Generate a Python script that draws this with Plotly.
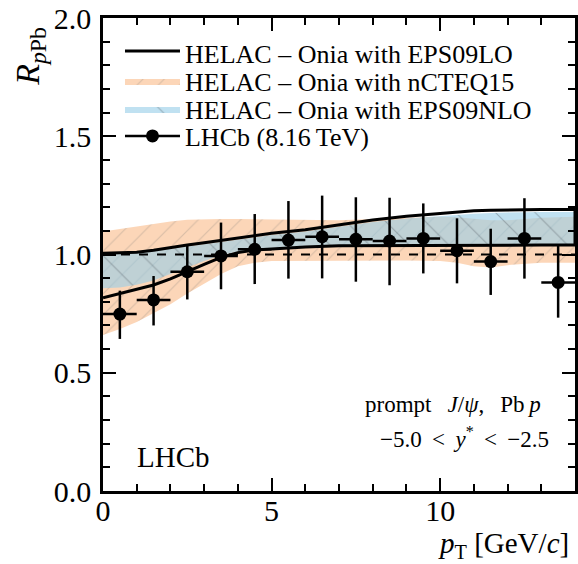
import plotly.graph_objects as go

# ---------------- data ----------------
pt_centers = [0.5, 1.5, 2.5, 3.5, 4.5, 5.5, 6.5, 7.5, 8.5, 9.5, 10.5, 11.5, 12.5, 13.5]
pt_halfwidth = [0.5] * 14
r_lhcb = [0.748, 0.808, 0.927, 0.994, 1.022, 1.061, 1.075, 1.064, 1.057, 1.068, 1.016, 0.970, 1.068, 0.882]
err_up = [0.099, 0.101, 0.117, 0.141, 0.149, 0.165, 0.174, 0.178, 0.183, 0.148, 0.137, 0.139, 0.170, 0.154]
err_dn = [0.105, 0.108, 0.117, 0.141, 0.147, 0.163, 0.176, 0.179, 0.187, 0.148, 0.138, 0.141, 0.170, 0.149]

pt_theory = [0, 0.5, 1, 1.5, 2, 2.5, 3, 3.5, 4, 4.5, 5, 6, 7, 8, 9, 10, 10.5, 11, 11.5, 12, 13, 14]

eps09lo_hi = [1.005, 1.007, 1.010, 1.018, 1.030, 1.040, 1.050, 1.060, 1.068, 1.080, 1.090, 1.105, 1.127, 1.146, 1.162, 1.175, 1.180, 1.185, 1.187, 1.189, 1.190, 1.190]
eps09lo_lo = [0.817, 0.836, 0.852, 0.871, 0.897, 0.927, 0.958, 0.988, 1.008, 1.019, 1.025, 1.032, 1.037, 1.040, 1.040, 1.040, 1.040, 1.040, 1.040, 1.040, 1.040, 1.040]

ncteq_hi = [1.097, 1.108, 1.120, 1.130, 1.140, 1.147, 1.150, 1.150, 1.150, 1.149, 1.148, 1.145, 1.145, 1.150, 1.155, 1.160, 1.158, 1.150, 1.145, 1.145, 1.155, 1.160]
ncteq_lo = [0.660, 0.685, 0.715, 0.752, 0.790, 0.835, 0.878, 0.918, 0.950, 0.965, 0.972, 0.975, 0.975, 0.975, 0.975, 0.972, 0.965, 0.950, 0.945, 0.955, 0.965, 0.965]

eps09nlo_hi = [1.000, 1.003, 1.007, 1.015, 1.025, 1.035, 1.045, 1.055, 1.062, 1.072, 1.082, 1.097, 1.118, 1.137, 1.152, 1.163, 1.168, 1.172, 1.175, 1.178, 1.180, 1.180]
eps09nlo_lo = [0.857, 0.860, 0.872, 0.890, 0.915, 0.945, 0.972, 0.997, 1.012, 1.020, 1.026, 1.032, 1.037, 1.040, 1.040, 1.040, 1.040, 1.040, 1.040, 1.040, 1.040, 1.040]

unity_x = [0, 14]
unity_y = [1.0, 1.0]

SERIF = "Liberation Serif"
NB = "\u00a0"
TH = "\u2009"


def band(x, lo, hi):
    return list(x) + list(x)[::-1], list(hi) + list(lo)[::-1]


fig = go.Figure()

# nCTEQ15 band (orange, /// hatch)
bx, by = band(pt_theory, ncteq_lo, ncteq_hi)
fig.add_trace(go.Scatter(
    x=bx, y=by, fill="toself", mode="lines", line=dict(width=0, color="rgba(0,0,0,0)"),
    fillcolor="rgba(252,214,184,1)",
    fillpattern=dict(shape="/", bgcolor="rgba(252,214,184,1)", fgcolor="rgba(150,140,130,0.7)",
                     size=15, solidity=0.07),
    name="HELAC \u2013 Onia with nCTEQ15", legend="legend2", hoverinfo="skip"))

# EPS09NLO band (blue, \\\ hatch)
bx, by = band(pt_theory, eps09nlo_lo, eps09nlo_hi)
fig.add_trace(go.Scatter(
    x=bx, y=by, fill="toself", mode="lines", line=dict(width=0, color="rgba(0,0,0,0)"),
    fillcolor="rgba(150,205,232,0.6)",
    fillpattern=dict(shape="\\", bgcolor="rgba(150,205,232,0.6)", fgcolor="rgba(70,80,85,0.7)",
                     size=28, solidity=0.04),
    name="HELAC \u2013 Onia with EPS09NLO", legend="legend3", hoverinfo="skip"))

# EPS09LO band (black outline)
bx, by = band(pt_theory, eps09lo_lo, eps09lo_hi)
fig.add_trace(go.Scatter(
    x=bx, y=by, fill="toself", mode="lines", line=dict(width=3, color="black"),
    fillcolor="rgba(255,255,255,0)",
    name="HELAC \u2013 Onia with EPS09LO", legend="legend", hoverinfo="skip"))

# unity reference
fig.add_trace(go.Scatter(x=unity_x, y=unity_y, mode="lines",
                         line=dict(color="black", width=1.8, dash="dash"),
                         showlegend=False, hoverinfo="skip"))

# LHCb data
fig.add_trace(go.Scatter(
    x=pt_centers, y=r_lhcb, mode="markers",
    marker=dict(color="black", size=13, symbol="circle"),
    error_y=dict(type="data", array=err_up, arrayminus=err_dn, color="black", thickness=2.5, width=0),
    error_x=dict(type="data", array=pt_halfwidth, color="black", thickness=2.5, width=0),
    showlegend=False))
# legend entry for data
fig.add_trace(go.Scatter(
    x=[None], y=[None], mode="lines+markers",
    marker=dict(color="black", size=13), line=dict(color="black", width=2.5),
    name="LHCb (8.16\u2009TeV)", legend="legend4"))


def leg(yc):
    return dict(x=0.036, y=yc, xanchor="left", yanchor="middle", bgcolor="rgba(0,0,0,0)",
                borderwidth=0, font=dict(family=SERIF, size=26, color="black"),
                itemwidth=55, tracegroupgap=0)


H = 473.0
W = 475.0
fig.update_layout(
    width=578, height=564,
    margin=dict(l=103, r=0, t=18, b=73),
    paper_bgcolor="white", plot_bgcolor="white",
    showlegend=True,
    legend=leg((491 - 53) / H),
    legend2=leg((491 - 81) / H),
    legend3=leg((491 - 109) / H),
    legend4=leg((491 - 136) / H),
    font=dict(family=SERIF, color="black"),
)

axis_common = dict(
    showgrid=False, zeroline=False, showline=True, linecolor="black", linewidth=2.5,
    ticks="inside", ticklen=13, tickwidth=2, tickcolor="black", mirror="ticks",
    tickfont=dict(family=SERIF, size=30, color="black"),
)
fig.update_xaxes(range=[0, 14], tickvals=[0, 5, 10], ticklabelstandoff=-9,
                 minor=dict(dtick=1, ticks="inside", ticklen=7, tickwidth=1.5, tickcolor="black"),
                 **axis_common)
fig.update_yaxes(range=[0, 2], dtick=0.5, tickformat=".1f", ticklabelstandoff=3,
                 minor=dict(dtick=0.1, ticks="inside", ticklen=7, tickwidth=1.5, tickcolor="black"),
                 **axis_common)

annots = [
    dict(text="<i>R</i><sub><i>p</i>Pb</sub>", x=-0.155, y=(491 - 56) / H, xref="paper", yref="paper",
         xanchor="center", yanchor="middle", textangle=-90, showarrow=False,
         font=dict(family=SERIF, size=34, color="black")),
    dict(text="<i>p</i><sub>T</sub> [GeV/<i>c</i>]", x=(574 - 103) / W, y=(491 - 545) / H,
         xref="paper", yref="paper", xanchor="right", yanchor="middle", showarrow=False,
         font=dict(family=SERIF, size=29, color="black")),
    dict(text="prompt" + NB * 2 + TH + "<i>J</i>/<i>\u03c8</i>," + NB * 2 + TH + "Pb" + TH + "<i>p</i>",
         x=(546 - 103) / W, y=(491 - 404) / H,
         xref="paper", yref="paper", xanchor="right", yanchor="middle", showarrow=False,
         font=dict(family=SERIF, size=23, color="black")),
    dict(text="\u22125.0" + NB + TH + "<" + NB + TH + "<i>y</i><sup>*</sup>" + NB + TH + "<" + NB + TH + "\u22122.5",
         x=(554 - 103) / W, y=(491 - 437) / H,
         xref="paper", yref="paper", xanchor="right", yanchor="middle", showarrow=False,
         font=dict(family=SERIF, size=23, color="black")),
    dict(text="LHCb", x=(135 - 103) / W, y=(491 - 457) / H,
         xref="paper", yref="paper", xanchor="left", yanchor="middle", showarrow=False,
         font=dict(family=SERIF, size=29, color="black")),
]
fig.update_layout(annotations=annots)

fig.write_html("out.html")
